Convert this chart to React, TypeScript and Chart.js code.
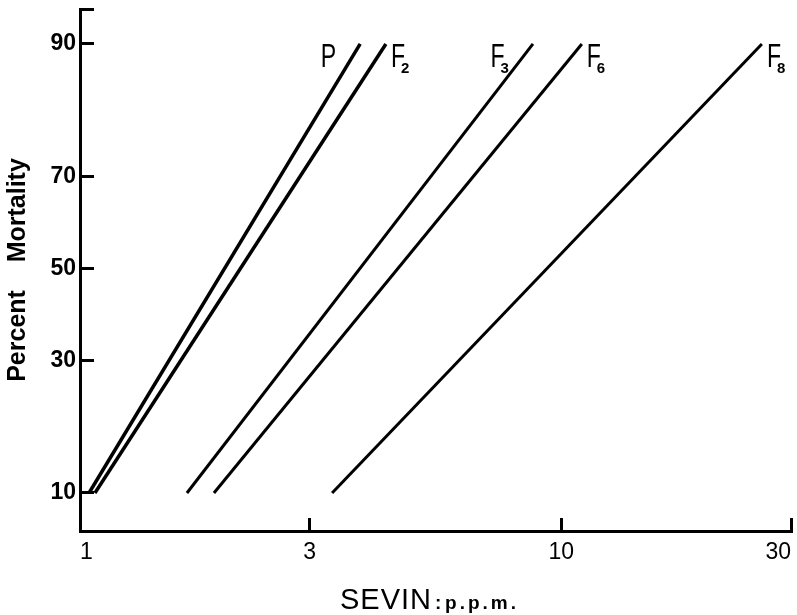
import React, { useEffect, useRef } from 'react';
import { Chart, registerables } from 'chart.js';

Chart.register(...registerables);

// ---- Data ----
const SERIES_MAIN = ['P', 'F', 'F', 'F', 'F'];
const SERIES_SUB = ['', '2', '3', '6', '8'];
const MORTALITY = [10, 90]; // percent mortality at the two ends of each line
const P_DOSE = [1.044, 3.82];
const F2_DOSE = [1.074, 4.32];
const F3_DOSE = [1.668, 8.73];
const F6_DOSE = [1.898, 11.03];
const F8_DOSE = [3.34, 26.1];
const X_TICKS = [1, 3, 10, 30];
const Y_TICKS = [10, 30, 50, 70, 90];
const Y_RANGE = [6.7, 93.07]; // percent at bottom / top of the axis
const X_RANGE = [1, 30];

// label placement (style, not data)
const LABEL_SIDE = ['left', 'right', 'left', 'right', 'right'];

const DOSES = [P_DOSE, F2_DOSE, F3_DOSE, F6_DOSE, F8_DOSE];

// inverse normal CDF (probit transform of the percent axis)
function probit(pct: number): number {
  const p = pct / 100;
  const a = [-3.969683028665376e1, 2.209460984245205e2, -2.759285104469687e2, 1.38357751867269e2, -3.066479806614716e1, 2.506628277459239];
  const b = [-5.447609879822406e1, 1.615858368580409e2, -1.556989798598866e2, 6.680131188771972e1, -1.328068155288572e1];
  const c = [-7.784894002430293e-3, -3.223964580411365e-1, -2.400758277161838, -2.549732539343734, 4.374664141464968, 2.938163982698783];
  const d = [7.784695709041462e-3, 3.224671290700398e-1, 2.445134137142996, 3.754408661907416];
  const pl = 0.02425;
  if (p < pl) {
    const q = Math.sqrt(-2 * Math.log(p));
    return (((((c[0] * q + c[1]) * q + c[2]) * q + c[3]) * q + c[4]) * q + c[5]) / ((((d[0] * q + d[1]) * q + d[2]) * q + d[3]) * q + 1);
  }
  if (p > 1 - pl) {
    const q = Math.sqrt(-2 * Math.log(1 - p));
    return -(((((c[0] * q + c[1]) * q + c[2]) * q + c[3]) * q + c[4]) * q + c[5]) / ((((d[0] * q + d[1]) * q + d[2]) * q + d[3]) * q + 1);
  }
  const q = p - 0.5;
  const r = q * q;
  return ((((((a[0] * r + a[1]) * r + a[2]) * r + a[3]) * r + a[4]) * r + a[5]) * q) / (((((b[0] * r + b[1]) * r + b[2]) * r + b[3]) * r + b[4]) * r + 1);
}

const FONT = '"Liberation Sans", Arial, sans-serif';

const overlayPlugin = {
  id: 'overlay',
  afterDatasetsDraw(chart: any) {
    const ctx: CanvasRenderingContext2D = chart.ctx;
    const area = chart.chartArea;
    ctx.save();
    ctx.fillStyle = '#000';
    ctx.textAlign = 'left';
    ctx.textBaseline = 'alphabetic';

    // series labels at the top end of every line
    const sx = 0.68;
    chart.data.datasets.forEach((_: any, i: number) => {
      const meta = chart.getDatasetMeta(i);
      const pt = meta.data[meta.data.length - 1];
      if (!pt) return;
      ctx.font = `34px ${FONT}`;
      const mainW = ctx.measureText(SERIES_MAIN[i]).width * sx;
      ctx.font = `bold 15px ${FONT}`;
      const subW = SERIES_SUB[i] ? ctx.measureText(SERIES_SUB[i]).width : 0;
      const subOff = 10;
      const totalW = SERIES_SUB[i] ? Math.max(mainW, subOff + subW) : mainW;
      const left = LABEL_SIDE[i] === 'right' ? pt.x + 5 : pt.x - 24 - totalW;
      const base = pt.y + 23;
      ctx.save();
      ctx.translate(left, base);
      ctx.scale(sx, 1);
      ctx.font = `34px ${FONT}`;
      ctx.fillText(SERIES_MAIN[i], 0, 0);
      ctx.restore();
      if (SERIES_SUB[i]) {
        ctx.font = `bold 15px ${FONT}`;
        ctx.fillText(SERIES_SUB[i], left + subOff, base + 6);
      }
    });

    // x-axis title: "SEVIN : p.p.m."
    const tx = area.left + 260;
    const ty = 609;
    ctx.font = `29px ${FONT}`;
    (ctx as any).letterSpacing = '1px';
    ctx.fillText('SEVIN', tx, ty);
    const w1 = ctx.measureText('SEVIN').width;
    ctx.font = `bold 19px ${FONT}`;
    (ctx as any).letterSpacing = '0px';
    ctx.fillText(':', tx + w1 + 3, ty);
    (ctx as any).letterSpacing = '3px';
    ctx.fillText('p.p.m.', tx + w1 + 13, ty);
    (ctx as any).letterSpacing = '0px';

    // y-axis title
    ctx.save();
    ctx.translate(25, (area.top + area.bottom) / 2);
    ctx.rotate(-Math.PI / 2);
    ctx.textAlign = 'center';
    ctx.font = `bold 25px ${FONT}`;
    ctx.fillText('Percent    Mortality', 0, 0);
    ctx.restore();

    ctx.restore();
  },
};

export default function App() {
  const canvasRef = useRef<HTMLCanvasElement | null>(null);

  useEffect(() => {
    if (!canvasRef.current) return;
    const datasets = DOSES.map((dose, i) => ({
      label: SERIES_MAIN[i] + SERIES_SUB[i],
      data: dose.map((x, j) => ({ x, y: probit(MORTALITY[j]) })),
      borderColor: '#000',
      backgroundColor: '#000',
      borderWidth: i < 2 ? 3.5 : 3,
      pointRadius: 0,
      tension: 0,
      fill: false,
    }));

    const chart = new Chart(canvasRef.current, {
      type: 'line',
      data: { datasets },
      plugins: [overlayPlugin],
      options: {
        animation: false,
        responsive: false,
        maintainAspectRatio: false,
        layout: { padding: { left: 0, top: 9, right: 6, bottom: 0 } },
        plugins: { legend: { display: false }, tooltip: { enabled: false } },
        scales: {
          x: {
            type: 'logarithmic',
            min: X_RANGE[0],
            max: X_RANGE[1],
            afterBuildTicks: (s: any) => {
              s.ticks = X_TICKS.map((v) => ({ value: v }));
            },
            afterFit: (s: any) => {
              s.height = 84;
              s.paddingLeft = 0;
              s.paddingRight = 0;
            },
            border: { display: true, color: '#000', width: 3 },
            grid: {
              display: true,
              drawOnChartArea: false,
              drawTicks: true,
              tickLength: -13,
              tickColor: '#000',
              tickWidth: 3,
            },
            ticks: {
              color: '#000',
              font: { family: FONT, size: 23 },
              padding: 21,
              align: 'inner',
              maxRotation: 0,
              autoSkip: false,
              callback: (v: any) => String(v),
            },
          },
          y: {
            type: 'linear',
            min: probit(Y_RANGE[0]),
            max: probit(Y_RANGE[1]),
            afterBuildTicks: (s: any) => {
              s.ticks = [...Y_TICKS.map((v) => ({ value: probit(v) })), { value: probit(Y_RANGE[1]) }];
            },
            afterFit: (s: any) => {
              s.width = 80;
              s.paddingTop = 0;
              s.paddingBottom = 0;
            },
            border: { display: true, color: '#000', width: 3 },
            grid: {
              display: true,
              drawOnChartArea: false,
              drawTicks: true,
              tickLength: -14,
              tickColor: '#000',
              tickWidth: 3,
            },
            ticks: {
              color: '#000',
              font: { family: FONT, size: 23, weight: 'bold' },
              padding: 18,
              autoSkip: false,
              callback: (_v: any, i: number) => (i < Y_TICKS.length ? String(Y_TICKS[i]) : ''),
            },
          },
        },
      } as any,
    });
    return () => chart.destroy();
  }, []);

  return (
    <div style={{ position: 'fixed', left: 0, top: 0, width: 797, height: 615, background: '#fff' }}>
      <canvas ref={canvasRef} width={797} height={615} style={{ display: 'block', width: 797, height: 615 }} />
    </div>
  );
}
